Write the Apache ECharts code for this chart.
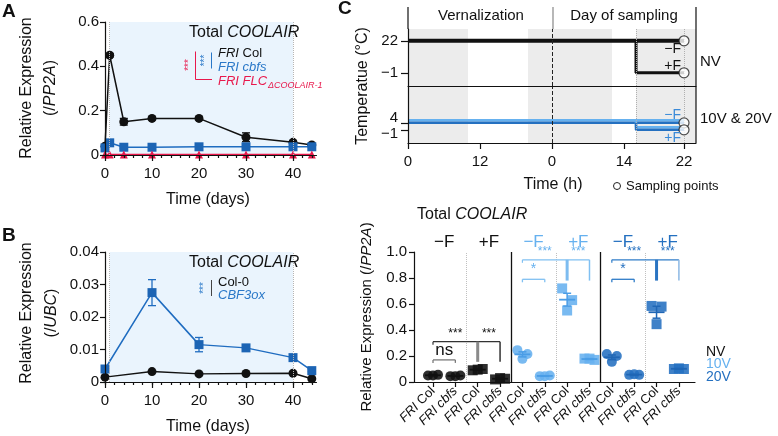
<!DOCTYPE html>
<html><head><meta charset="utf-8">
<script src="https://cdn.jsdelivr.net/npm/echarts@6/dist/echarts.min.js"></script>
<style>html,body{margin:0;padding:0;background:#fff}#c{width:778px;height:436px}</style>
</head><body><div id="c"></div>
<script>
const FONT = '"Liberation Sans", Arial, Helvetica, sans-serif';
// ---------- Panel A ----------
const daysA = [0, 1, 4, 10, 20, 30, 40, 44];
const aFriCol = [0.04, 0.45, 0.15, 0.165, 0.165, 0.08, 0.057, 0.045];
const aFriColErr = [0, 0.008, 0.015, 0.006, 0.006, 0.02, 0.006, 0.004];
const aFriCbfs = [0.032, 0.055, 0.035, 0.035, 0.037, 0.037, 0.037, 0.037];
const aFriCbfsErr = [0, 0.006, 0.004, 0.003, 0.003, 0.006, 0.003, 0.003];
const aFlc = [0.002, 0.002, 0.002, 0.002, 0.002, 0.002, 0.002, 0.002];
// ---------- Panel B ----------
const daysB = [0, 10, 20, 30, 40, 44];
const bCol0 = [0.0015, 0.0032, 0.0025, 0.0026, 0.0027, 0.001];
const bCbf3 = [0.004, 0.0275, 0.0115, 0.0105, 0.0075, 0.0035];
const bCbf3Err = [0.0004, 0.004, 0.0022, 0.0005, 0.0005, 0.0003];
const dayTicks = [0, 10, 20, 30, 40];
const dayMinorTicks = [0, 2, 4, 6, 8, 10, 12, 14, 16, 18, 20, 22, 24, 26, 28, 30, 32, 34, 36, 38, 40, 42, 44];
const vernWindow = [1, 40];
// ---------- Panel C (schematic) ----------
const schemTicks = [0, 12, 24, 36, 46];
const schemTickLabels = ['0', '12', '0', '14', '22'];
const nightBands = [[0, 10], [20, 34], [38, 48]];
const nvPath = [[0, 22], [46, 22]];
const nvFreeze = [[38, 22], [38, -1], [46, -1]];
const vPath = [[0, 4], [46, 4]];
const vFreeze = [[38, 4], [38, -1], [46, -1]];
const samplingNV = [[46, 22], [46, -1]];
const samplingV = [[46, 4], [46, -1]];
const nvTempTicks = [22, -1];
const vTempTicks = [4, -1];
// ---------- Panel C (dot plot) ----------
const cCats = ['FRI Col', 'FRI cbfs', 'FRI Col', 'FRI cbfs', 'FRI Col', 'FRI cbfs', 'FRI Col', 'FRI cbfs', 'FRI Col', 'FRI cbfs', 'FRI Col', 'FRI cbfs'];
const cGroup = [0, 0, 0, 0, 1, 1, 1, 1, 2, 2, 2, 2];
const cFrost = [0, 0, 1, 1, 0, 0, 1, 1, 0, 0, 1, 1];
const cReps = [
  [0.05, 0.055, 0.05], [0.045, 0.05, 0.045], [0.09, 0.1, 0.095], [0.02, 0.025, 0.03],
  [0.245, 0.215, 0.178], [0.045, 0.05, 0.045], [0.72, 0.63, 0.55], [0.18, 0.17, 0.18],
  [0.215, 0.2, 0.155], [0.055, 0.055, 0.06], [0.585, 0.58, 0.445], [0.1, 0.1, 0.105]
];
const treatLabels = ['−F', '+F', '−F', '+F', '−F', '+F'];
const sigPairs = [
  { x1: 0, x2: 1, y: 0.17, label: 'ns', g: 0 },
  { x1: 4, x2: 5, y: 0.79, label: '*', g: 1 },
  { x1: 8, x2: 9, y: 0.79, label: '*', g: 2 }
];
const sigTriples = [
  { x1: 0, x2: 2, x3: 3, y: 0.31, low: 0.155, g: 0 },
  { x1: 4, x2: 6, x3: 7, y: 0.94, low: 0.78, g: 1 },
  { x1: 8, x2: 10, x3: 11, y: 0.94, low: 0.78, g: 2 }
];

// ---------- styles ----------
const BLACK = '#111', BLUE = '#1c64b4', RED = '#e8184c', SHADE = '#eaf4fd';
const LIGHT = '#66b1ef', DARK = '#2470c0', NIGHT = '#ececec';
const GCOL = [BLACK, LIGHT, DARK];
const GMEAN = [BLACK, '#4a9de6', '#1f66b5'];
const GLINE = ['#333', '#80c0f2', '#2f7cc8'];
const GTHICK = ['#8a8a8a', '#7dbcf0', '#2a74c2'];
const GTHIN = ['#333', '#80c0f2', '#8cb8e4'];
const jitter = [-5, 5, 0];

const axLine = { show: true, onZero: false, lineStyle: { color: BLACK, width: 1.2 } };
const lbl = (o) => Object.assign({ color: BLACK, fontFamily: FONT, fontSize: 15 }, o);

function errSeries(xIdx, yIdx, xs, ys, errs, color, cap, z) {
  const data = [];
  xs.forEach((x, i) => { if (errs[i] > 0) data.push([x, ys[i] - errs[i], ys[i] + errs[i]]); });
  return {
    type: 'custom', xAxisIndex: xIdx, yAxisIndex: yIdx, z: z || 3, silent: true, clip: false,
    data: data,
    renderItem(params, api) {
      const x = api.value(0);
      const lo = api.coord([x, api.value(1)]), hi = api.coord([x, api.value(2)]);
      const st = { stroke: color, lineWidth: 1.3 };
      return { type: 'group', children: [
        { type: 'line', shape: { x1: lo[0], y1: lo[1], x2: hi[0], y2: hi[1] }, style: st },
        { type: 'line', shape: { x1: lo[0] - cap, y1: lo[1], x2: lo[0] + cap, y2: lo[1] }, style: st },
        { type: 'line', shape: { x1: hi[0] - cap, y1: hi[1], x2: hi[0] + cap, y2: hi[1] }, style: st }
      ] };
    }
  };
}

function txt(x, y, text, o) {
  o = o || {};
  const size = o.size || 15;
  const rich = {
    i: { fontStyle: 'italic', fontSize: size, fontFamily: FONT, fill: o.color || BLACK, color: o.color || BLACK },
    n: { fontSize: size, fontFamily: FONT, fill: o.color || BLACK, color: o.color || BLACK }
  };
  return {
    type: 'text', x: x, y: y, rotation: o.rot || 0, z: 100, silent: true,
    style: {
      text: text, rich: rich, fill: o.color || BLACK,
      font: (o.italic ? 'italic ' : '') + (o.bold ? 'bold ' : '') + size + 'px ' + FONT,
      textAlign: o.align || 'left', textVerticalAlign: 'middle', verticalAlign: 'middle'
    }
  };
}
function ln(x1, y1, x2, y2, color, w) {
  return { type: 'line', z: 100, silent: true, shape: { x1, y1, x2, y2 }, style: { stroke: color, lineWidth: w || 1 } };
}

// ---------- dot plot helpers ----------
const cScatter = cReps.map((reps, i) => ({
  type: 'scatter', xAxisIndex: 6, yAxisIndex: 4, z: 4,
  symbol: cFrost[i] ? 'rect' : 'circle', symbolSize: 10,
  itemStyle: { color: GCOL[cGroup[i]], opacity: 0.88 },
  data: reps.map((v, k) => ({ value: [i, v], symbolOffset: [jitter[k], 0] }))
}));
const meanSE = cReps.map((r, i) => {
  const m = r.reduce((a, b) => a + b, 0) / r.length;
  const sd = Math.sqrt(r.reduce((a, b) => a + (b - m) * (b - m), 0) / (r.length - 1));
  const se = sd / Math.sqrt(r.length);
  return [i, m, m - se, m + se, cGroup[i]];
});

const bracketSeries = {
  type: 'custom', xAxisIndex: 6, yAxisIndex: 4, z: 6, silent: true, clip: false,
  data: sigTriples.map((b, i) => [b.x1, b.y, i]),
  renderItem(params, api) {
    const b = sigTriples[api.value(2)];
    const p1 = api.coord([b.x1, b.y]), p2 = api.coord([b.x2, b.y]), p3 = api.coord([b.x3, b.y]);
    const lo = api.coord([b.x2, b.low])[1];
    const c = GLINE[b.g];
    const st = { stroke: c, lineWidth: 1.2 };
    const ch = [
      { type: 'line', shape: { x1: p1[0], y1: p1[1], x2: p3[0], y2: p3[1] }, style: st },
      { type: 'line', shape: { x1: p1[0], y1: p1[1], x2: p1[0], y2: p1[1] + 3 }, style: st },
      { type: 'line', shape: { x1: p2[0], y1: p2[1], x2: p2[0], y2: lo }, style: { stroke: GTHICK[b.g], lineWidth: 3 } },
      { type: 'line', shape: { x1: p3[0], y1: p3[1], x2: p3[0], y2: lo }, style: { stroke: GTHIN[b.g], lineWidth: 1.5 } },
      { type: 'text', x: (p1[0] + p2[0]) / 2, y: p1[1] - 2, style: { text: '***', fill: GCOL[b.g], font: '12px ' + FONT, textAlign: 'center', textVerticalAlign: 'bottom', verticalAlign: 'bottom' } },
      { type: 'text', x: (p2[0] + p3[0]) / 2, y: p1[1] - 2, style: { text: '***', fill: GCOL[b.g], font: '12px ' + FONT, textAlign: 'center', textVerticalAlign: 'bottom', verticalAlign: 'bottom' } }
    ];
    return { type: 'group', children: ch };
  }
};
const pairSeries = {
  type: 'custom', xAxisIndex: 6, yAxisIndex: 4, z: 6, silent: true, clip: false,
  data: sigPairs.map((b, i) => [b.x1, b.y, i]),
  renderItem(params, api) {
    const b = sigPairs[api.value(2)];
    const p1 = api.coord([b.x1, b.y]), p2 = api.coord([b.x2, b.y]);
    const c = b.g === 0 ? '#7a7a7a' : GLINE[b.g];
    const st = { stroke: c, lineWidth: 1.3 };
    const isNs = b.label === 'ns';
    return { type: 'group', children: [
      { type: 'line', shape: { x1: p1[0], y1: p1[1], x2: p2[0], y2: p2[1] }, style: st },
      { type: 'line', shape: { x1: p1[0], y1: p1[1], x2: p1[0], y2: p1[1] + 3 }, style: st },
      { type: 'line', shape: { x1: p2[0], y1: p2[1], x2: p2[0], y2: p2[1] + 3 }, style: st },
      { type: 'text', x: (p1[0] + p2[0]) / 2, y: p1[1] - (isNs ? 1 : 3), style: { text: b.label, fill: b.g === 0 ? BLACK : GCOL[b.g], font: (isNs ? 17 : 14) + 'px ' + FONT, textAlign: 'center', textVerticalAlign: 'bottom', verticalAlign: 'bottom' } }
    ] };
  }
};
const meanSeries = {
  type: 'custom', xAxisIndex: 6, yAxisIndex: 4, z: 5, silent: true, clip: false,
  data: meanSE,
  renderItem(params, api) {
    const x = api.value(0);
    const m = api.coord([x, api.value(1)]), lo = api.coord([x, api.value(2)]), hi = api.coord([x, api.value(3)]);
    const c = GMEAN[api.value(4)];
    const st = { stroke: c, lineWidth: 1.5 };
    return { type: 'group', children: [
      { type: 'line', shape: { x1: m[0] - 8, y1: m[1], x2: m[0] + 8, y2: m[1] }, style: { stroke: c, lineWidth: 1.8 } },
      { type: 'line', shape: { x1: lo[0], y1: lo[1], x2: hi[0], y2: hi[1] }, style: st },
      { type: 'line', shape: { x1: lo[0] - 4, y1: lo[1], x2: lo[0] + 4, y2: lo[1] }, style: st },
      { type: 'line', shape: { x1: hi[0] - 4, y1: hi[1], x2: hi[0] + 4, y2: hi[1] }, style: st }
    ] };
  }
};
const treatSeries = {
  type: 'custom', xAxisIndex: 6, yAxisIndex: 4, z: 6, silent: true, clip: false,
  data: treatLabels.map((t, i) => [i * 2 + 0.5, 1.0, i]),
  renderItem(params, api) {
    const i = api.value(2);
    const p = api.coord([api.value(0), api.value(1)]);
    return { type: 'text', x: p[0], y: p[1] - 10, style: { text: treatLabels[i], fill: GCOL[Math.floor(i / 2)], font: '17px ' + FONT, textAlign: 'center', textVerticalAlign: 'middle', verticalAlign: 'middle' } };
  }
};

const yFmt = v => (v === 0 ? '0' : String(+v.toFixed(3)));

const option = {
  animation: false,
  backgroundColor: '#fff',
  textStyle: { fontFamily: FONT },
  grid: [
    { left: 105, top: 22, width: 211.5, height: 133, outerBoundsMode: 'none' },
    { left: 105, top: 252, width: 211.5, height: 130, outerBoundsMode: 'none' },
    { left: 408, top: 29, width: 288, height: 57, outerBoundsMode: 'none' },
    { left: 408, top: 86, width: 288, height: 57, outerBoundsMode: 'none' },
    { left: 414, top: 252, width: 281, height: 130, outerBoundsMode: 'none' }
  ],
  xAxis: [
    { gridIndex: 0, type: 'value', min: 0, max: 45, z: 10, position: 'bottom', axisLine: axLine,
      axisTick: { customValues: dayTicks, length: 6, lineStyle: { color: BLACK, width: 1.2 } },
      axisLabel: lbl({ customValues: dayTicks, margin: 11 }), splitLine: { show: false } },
    { gridIndex: 0, type: 'value', min: 0, max: 45, z: 10, position: 'bottom', offset: 0, axisLine: { show: false },
      axisTick: { customValues: dayMinorTicks, length: 3, lineStyle: { color: BLACK, width: 1.2 } },
      axisLabel: { show: false }, splitLine: { show: false } },
    { gridIndex: 1, type: 'value', min: 0, max: 45, z: 10, position: 'bottom', axisLine: axLine,
      axisTick: { customValues: dayTicks, length: 6, lineStyle: { color: BLACK, width: 1.2 } },
      axisLabel: lbl({ customValues: dayTicks, margin: 11 }), splitLine: { show: false } },
    { gridIndex: 1, type: 'value', min: 0, max: 45, z: 10, position: 'bottom', offset: 0, axisLine: { show: false },
      axisTick: { customValues: dayMinorTicks, length: 3, lineStyle: { color: BLACK, width: 1.2 } },
      axisLabel: { show: false }, splitLine: { show: false } },
    { gridIndex: 2, type: 'value', min: 0, max: 48, z: 10, position: 'bottom', axisLine: { show: true, onZero: false, lineStyle: { color: BLACK, width: 1 } },
      axisTick: { show: false }, axisLabel: { show: false }, splitLine: { show: false } },
    { gridIndex: 3, type: 'value', min: 0, max: 48, z: 10, position: 'bottom', axisLine: { show: true, onZero: false, lineStyle: { color: BLACK, width: 1.2 } },
      axisTick: { customValues: schemTicks, length: 6, lineStyle: { color: BLACK, width: 1.2 } },
      axisLabel: lbl({ customValues: schemTicks, margin: 11, formatter: v => schemTickLabels[schemTicks.indexOf(v)] }),
      splitLine: { show: false } },
    { gridIndex: 4, type: 'value', min: -0.85, max: 11.72, z: 10, position: 'bottom', axisLine: axLine,
      axisTick: { customValues: cCats.map((c, i) => i), length: 5, lineStyle: { color: BLACK, width: 1.2 } },
      axisLabel: {
        customValues: cCats.map((c, i) => i), rotate: 45, margin: 7, fontSize: 13, color: BLACK, fontFamily: FONT,
        formatter: v => { const p = cCats[v].split(' '); return '{i|' + p[0] + '} ' + (p[1] === 'cbfs' ? '{i|cbfs}' : '{n|' + p[1] + '}'); },
        rich: { i: { fontStyle: 'italic', fontSize: 13, fontFamily: FONT, color: BLACK }, n: { fontSize: 13, fontFamily: FONT, color: BLACK } }
      }, splitLine: { show: false } }
  ],
  yAxis: [
    { gridIndex: 0, type: 'value', min: 0, max: 0.6, interval: 0.2, z: 10, axisLine: axLine,
      axisTick: { show: true, length: 5, lineStyle: { color: BLACK, width: 1.2 } },
      axisLabel: lbl({ margin: 6, formatter: yFmt }), splitLine: { show: false } },
    { gridIndex: 1, type: 'value', min: 0, max: 0.04, interval: 0.01, z: 10, axisLine: axLine,
      axisTick: { show: true, length: 5, lineStyle: { color: BLACK, width: 1.2 } },
      axisLabel: lbl({ margin: 6, formatter: yFmt }), splitLine: { show: false } },
    { gridIndex: 2, type: 'value', min: -10.5, max: 30.5, z: 10, axisLine: axLine,
      axisTick: { customValues: nvTempTicks, length: 7, lineStyle: { color: BLACK, width: 1.2 } },
      axisLabel: lbl({ customValues: nvTempTicks, margin: 10, formatter: v => (v < 0 ? '−' + Math.abs(v) : String(v)) }),
      splitLine: { show: false } },
    { gridIndex: 3, type: 'value', min: -10.5, max: 30.5, z: 10, axisLine: axLine,
      axisTick: { customValues: vTempTicks, length: 7, lineStyle: { color: BLACK, width: 1.2 } },
      axisLabel: lbl({ customValues: vTempTicks, margin: 10,
        formatter: v => (v < 0 ? '{d|−' + Math.abs(v) + '}' : '{u|' + v + '}'),
        rich: { u: { fontSize: 15, fontFamily: FONT, color: BLACK, padding: [0, 0, 9, 0] }, d: { fontSize: 15, fontFamily: FONT, color: BLACK, padding: [8, 0, 0, 0] } } }),
      splitLine: { show: false } },
    { gridIndex: 4, type: 'value', min: 0, max: 1.0, interval: 0.2, z: 10, axisLine: axLine,
      axisTick: { show: true, length: 5, lineStyle: { color: BLACK, width: 1.2 } },
      axisLabel: lbl({ margin: 7, formatter: v => (v === 0 ? '0' : v.toFixed(1)) }), splitLine: { show: false } }
  ],
  series: [
    // ----- Panel A -----
    { type: 'line', xAxisIndex: 0, yAxisIndex: 0, z: 2, data: daysA.map((d, i) => [d, aFriCol[i]]),
      symbol: 'circle', symbolSize: 9, itemStyle: { color: BLACK }, lineStyle: { color: BLACK, width: 1.5 },
      markArea: { silent: true, itemStyle: { color: SHADE }, data: [[{ xAxis: vernWindow[0] }, { xAxis: vernWindow[1] }]] },
      markLine: { silent: true, symbol: ['none', 'none'], label: { show: false }, lineStyle: { color: '#b5b5b5', type: 'dotted', width: 1 },
        data: [{ xAxis: vernWindow[0] }, { xAxis: vernWindow[1] }] } },
    errSeries(0, 0, daysA, aFriCol, aFriColErr, BLACK, 4),
    { type: 'line', xAxisIndex: 0, yAxisIndex: 0, z: 3, data: daysA.map((d, i) => [d, aFriCbfs[i]]),
      symbol: 'rect', symbolSize: 9, itemStyle: { color: BLUE }, lineStyle: { color: '#1f6cc0', width: 1.5 } },
    errSeries(0, 0, daysA, aFriCbfs, aFriCbfsErr, BLUE, 4),
    { type: 'line', xAxisIndex: 0, yAxisIndex: 0, z: 4, data: daysA.map((d, i) => [d, aFlc[i]]),
      symbol: 'triangle', symbolSize: 8, itemStyle: { color: RED }, lineStyle: { color: RED, width: 1.5 } },
    // ----- Panel B -----
    { type: 'line', xAxisIndex: 2, yAxisIndex: 1, z: 2, data: daysB.map((d, i) => [d, bCol0[i]]),
      symbol: 'circle', symbolSize: 9, itemStyle: { color: BLACK }, lineStyle: { color: BLACK, width: 1.5 },
      markArea: { silent: true, itemStyle: { color: SHADE }, data: [[{ xAxis: vernWindow[0] }, { xAxis: vernWindow[1] }]] },
      markLine: { silent: true, symbol: ['none', 'none'], label: { show: false }, lineStyle: { color: '#b5b5b5', type: 'dotted', width: 1 },
        data: [{ xAxis: vernWindow[0] }, { xAxis: vernWindow[1] }] } },
    { type: 'line', xAxisIndex: 2, yAxisIndex: 1, z: 3, data: daysB.map((d, i) => [d, bCbf3[i]]),
      symbol: 'rect', symbolSize: 9, itemStyle: { color: BLUE }, lineStyle: { color: '#1f6cc0', width: 1.5 } },
    errSeries(2, 1, daysB, bCbf3, bCbf3Err, '#1f6cc0', 4),
    // ----- Panel C schematic -----
    { type: 'line', xAxisIndex: 4, yAxisIndex: 2, z: 3, data: nvPath, symbol: 'none', lineStyle: { color: BLACK, width: 4 },
      markArea: { silent: true, itemStyle: { color: NIGHT }, data: nightBands.map(b => [{ xAxis: b[0] }, { xAxis: b[1] }]) },
      markLine: { silent: true, symbol: ['none', 'none'], label: { show: false },
        data: [{ xAxis: 24, lineStyle: { type: 'dashed', color: '#222', width: 1 } },
               { xAxis: 38, lineStyle: { type: 'dotted', color: '#b0b0b0', width: 1 } },
               { xAxis: 46, lineStyle: { type: 'dotted', color: '#b0b0b0', width: 1 } }] } },
    { type: 'line', xAxisIndex: 4, yAxisIndex: 2, z: 3, data: nvFreeze, symbol: 'none', lineStyle: { color: BLACK, width: 3 } },
    { type: 'scatter', xAxisIndex: 4, yAxisIndex: 2, z: 5, data: samplingNV, symbol: 'circle', symbolSize: 10,
      itemStyle: { color: '#fff', borderColor: '#222', borderWidth: 1.2 } },
    { type: 'line', xAxisIndex: 5, yAxisIndex: 3, z: 3, data: vPath, symbol: 'none',
      lineStyle: { color: DARK, width: 2.5, shadowColor: LIGHT, shadowOffsetY: -2.5, shadowBlur: 0 },
      markArea: { silent: true, itemStyle: { color: NIGHT }, data: nightBands.map(b => [{ xAxis: b[0] }, { xAxis: b[1] }]) },
      markLine: { silent: true, symbol: ['none', 'none'], label: { show: false },
        data: [{ xAxis: 24, lineStyle: { type: 'dashed', color: '#222', width: 1 } },
               { xAxis: 38, lineStyle: { type: 'dotted', color: '#b0b0b0', width: 1 } },
               { xAxis: 46, lineStyle: { type: 'dotted', color: '#b0b0b0', width: 1 } }] } },
    { type: 'line', xAxisIndex: 5, yAxisIndex: 3, z: 3, data: vFreeze, symbol: 'none',
      lineStyle: { color: DARK, width: 2.5, shadowColor: LIGHT, shadowOffsetY: -2.5, shadowBlur: 0 } },
    { type: 'scatter', xAxisIndex: 5, yAxisIndex: 3, z: 5, data: samplingV, symbol: 'circle', symbolSize: 10,
      itemStyle: { color: '#fff', borderColor: '#222', borderWidth: 1.2 } },
    // ----- Panel C dot plot -----
    { type: 'line', xAxisIndex: 6, yAxisIndex: 4, data: [], z: 1,
      markLine: { silent: true, symbol: ['none', 'none'], label: { show: false },
        data: [1.5, 5.5, 9.5].map(x => ({ xAxis: x, lineStyle: { type: 'dotted', color: '#c0c0c0', width: 1 } }))
          .concat([3.5, 7.5].map(x => ({ xAxis: x, lineStyle: { type: 'solid', color: BLACK, width: 1.3 } }))) } },
    ...cScatter, meanSeries, bracketSeries, pairSeries, treatSeries
  ],
  graphic: [
    txt(2, 12, 'A', { size: 19, bold: true }),
    txt(2, 236, 'B', { size: 19, bold: true }),
    txt(338, 9, 'C', { size: 19, bold: true }),
    // Panel A texts
    txt(27, 88, 'Relative Expression', { size: 16, rot: Math.PI / 2, align: 'center' }),
    txt(51, 88, '{n|(/}{i|PP2A}{n|)}', { size: 16, rot: Math.PI / 2, align: 'center' }),
    txt(208, 200, 'Time (days)', { size: 16, align: 'center' }),
    txt(189, 33, '{n|Total }{i|COOLAIR}', { size: 16 }),
    txt(218, 53, '{i|FRI}{n| Col}', { size: 13 }),
    txt(218, 67, 'FRI cbfs', { size: 13, italic: true, color: '#2a78c8' }),
    txt(218, 81, 'FRI FLC', { size: 13, italic: true, color: RED }),
    txt(268, 85, 'ΔCOOLAIR-1', { size: 9, italic: true, color: RED }),
    ln(211.5, 52.5, 211.5, 68.5, '#2a78c8', 1),
    txt(205, 60.5, '***', { size: 10, rot: Math.PI / 2, align: 'center', color: '#2a78c8' }),
    ln(195.5, 51.5, 195.5, 79.5, RED, 1),
    ln(195.5, 79.5, 212, 79.5, RED, 1),
    txt(189, 65, '***', { size: 10, rot: Math.PI / 2, align: 'center', color: RED }),
    // Panel B texts
    txt(27, 313, 'Relative Expression', { size: 16, rot: Math.PI / 2, align: 'center' }),
    txt(52, 313, '{n|(/}{i|UBC}{n|)}', { size: 16, rot: Math.PI / 2, align: 'center' }),
    txt(208, 427, 'Time (days)', { size: 16, align: 'center' }),
    txt(189, 263, '{n|Total }{i|COOLAIR}', { size: 16 }),
    txt(218, 282, 'Col-0', { size: 13 }),
    txt(218, 295, 'CBF3ox', { size: 13, italic: true, color: '#2a78c8' }),
    ln(211.5, 280, 211.5, 296, '#444', 1),
    txt(204, 288, '***', { size: 10, rot: Math.PI / 2, align: 'center', color: '#2a78c8' }),
    // Panel C schematic texts
    txt(363, 86, 'Temperatue (°C)', { size: 16, rot: Math.PI / 2, align: 'center' }),
    ln(408, 7, 408, 29, BLACK, 1.2),
    ln(553, 7, 553, 29, '#888', 1.2),
    ln(696, 7, 696, 143, BLACK, 1.2),
    txt(481, 16, 'Vernalization', { size: 15, align: 'center' }),
    txt(624, 16, 'Day of sampling', { size: 15, align: 'center' }),
    txt(681, 49, '−F', { size: 14, align: 'right' }),
    txt(681, 66, '+F', { size: 14, align: 'right' }),
    txt(700, 62, 'NV', { size: 15 }),
    txt(681, 115, '−F', { size: 14, align: 'right', color: '#3a8ad8' }),
    txt(681, 138, '+F', { size: 14, align: 'right', color: '#3a8ad8' }),
    txt(700, 119, '10V & 20V', { size: 15 }),
    txt(553, 185, 'Time (h)', { size: 16, align: 'center' }),
    { type: 'circle', z: 100, shape: { cx: 617, cy: 186, r: 3.5 }, style: { fill: '#fff', stroke: '#222', lineWidth: 1 } },
    txt(626, 186, 'Sampling points', { size: 13 }),
    // Panel C dot plot texts
    txt(367, 317, '{n|Relative Expression (/}{i|PP2A}{n|)}', { size: 15, rot: Math.PI / 2, align: 'center' }),
    txt(417, 215, '{n|Total }{i|COOLAIR}', { size: 16 }),
    txt(706, 352, 'NV', { size: 14, color: BLACK }),
    txt(706, 364.5, '10V', { size: 14, color: LIGHT }),
    txt(706, 377, '20V', { size: 14, color: DARK })
  ]
};

const chart = echarts.init(document.getElementById('c'), null, { renderer: 'canvas', width: 778, height: 436 });
chart.setOption(option);
</script>
</body></html>
